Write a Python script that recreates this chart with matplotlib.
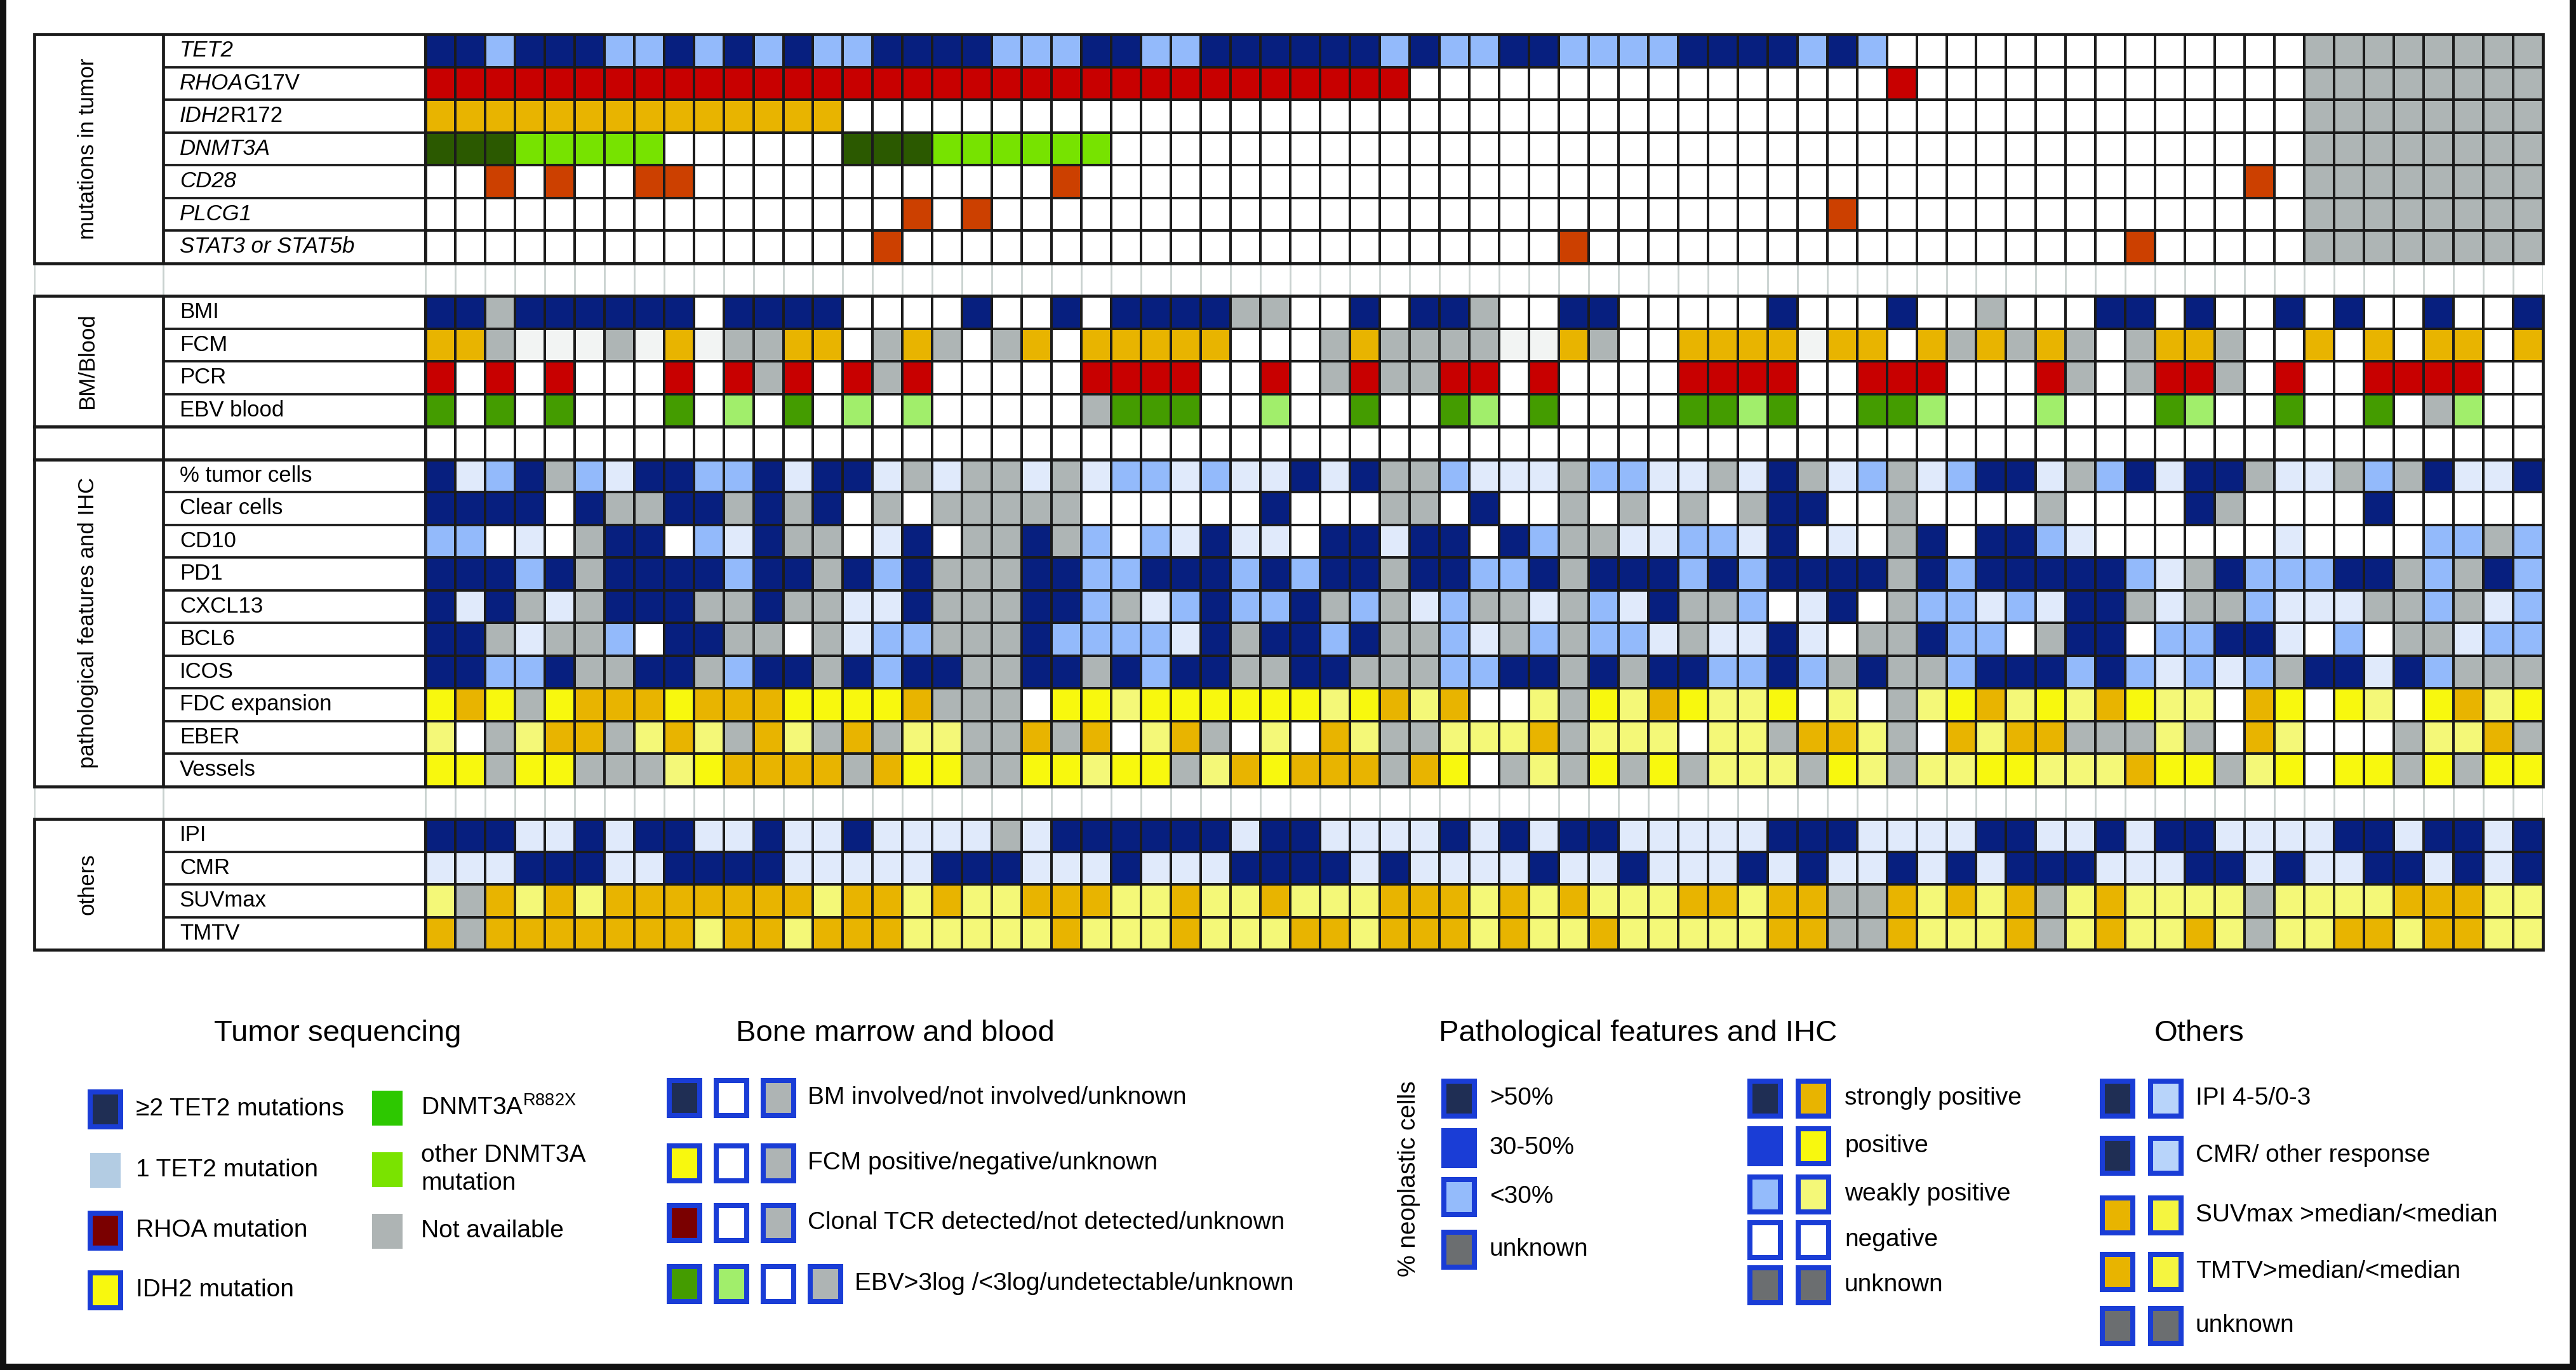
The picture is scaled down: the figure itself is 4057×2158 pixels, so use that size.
import numpy as np
import matplotlib
matplotlib.use("Agg")
import matplotlib.pyplot as plt
from matplotlib.colors import ListedColormap
from matplotlib.patches import Rectangle

plt.rcParams['font.family'] = ['Liberation Sans', 'DejaVu Sans']
plt.rcParams['mathtext.fontset'] = 'custom'
plt.rcParams['mathtext.rm'] = 'Liberation Sans'
plt.rcParams['mathtext.it'] = 'Liberation Sans:italic'

# cell colour codes
palette = {
    'N': '#071f7f', 'L': '#93bafb', 'V': '#e0eafb', 'G': '#aeb5b5',
    'W': '#ffffff', 'F': '#f2f4f3', 'R': '#c80000', 'O': '#e8b400',
    'Y': '#f8f80e', 'y': '#f4f878', 'D': '#2b5900', 'E': '#77e300',
    'C': '#cc4000', 'e': '#449c00', 'l': '#a1ee6b',
}

# one string per row, 71 patients (columns)
tet2 = "NNLNNNLLNLNLNLLNNNNLLLNN" + "LLNNNNNNLNLLNNLLLLNNNNLN" + "LWWWWWWWWWWWWWWGGGGGGGG"
rhoa = "R" * 24 + "RRRRRRRRRWWWWWWWWWWWWWWW" + "WRWWWWWWWWWWWWWGGGGGGGG"
idh2 = "OOOOOOOOOOOOOOWWWWWWWWWW" + "W" * 24 + "WWWWWWWWWWWWWWWGGGGGGGG"
dnmt3a = "DDDEEEEEWWWWWWDDDEEEEEEW" + "W" * 24 + "WWWWWWWWWWWWWWWGGGGGGGG"
cd28 = "WWCWCWWCCWWWWWWWWWWWWCWW" + "W" * 24 + "WWWWWWWWWWWWWCWGGGGGGGG"
plcg1 = "WWWWWWWWWWWWWWWWCWCWWWWW" + "WWWWWWWWWWWWWWWWWWWWWWWC" + "WWWWWWWWWWWWWWWGGGGGGGG"
stat = "WWWWWWWWWWWWWWWCWWWWWWWW" + "WWWWWWWWWWWWWWCWWWWWWWWW" + "WWWWWWWWWCWWWWWGGGGGGGG"

bmi = "NNGNNNNNNWNNNNWWWWNWWNWN" + "NNNGGWWNWNNGWWNNWWWWWNWW" + "WNWWGWWWNNWNWWNWNWWNWWN"
fcm = "OOGFFFGFOFGGOOWGOGWGOWOO" + "OOOWWWGOGGGGFFOGWWOOOOFO" + "OWOGOGOGWGOOGWWOWOWOOWO"
pcr = "RWRWRWWWRWRGRWRGRWWWWWRR" + "RRWWRWGRGGRRWRWWWWRRRRWW" + "RRRWWWRGWGRRGWRWWRRRRWW"
ebv = "eWeWeWWWeWlWeWlWlWWWWWGe" + "eeWWlWWeWWelWeWWWWeeleWW" + "eelWWWlWWWelWWeWWeWGlWW"
empty = "W" * 71

tumor_pct = "NVLNGLVNNLLNVNNVGVGGVGVL" + "LVLVVNVNGGLVVVGLLVVGVNGV" + "LGVLNNVGLNVNNGVVGLGNVVN"
clear = "NNNNWNGGNNGNGNWGWGGGGGWW" + "WWWWNWWWGGWNWWGWGWGWGNNW" + "WGWWWWGWWWWNGWWWWNWWWWW"
cd10 = "LLWVWGNNWLVNGGWVNWGGNGLW" + "LVNVVWNNVNNWNLGGVVLLVNWV" + "WGNWNNLVWWWWWWVWWWWLLGL"
pd1 = "NNNLNGNNNNLNNGNLNGGGNNLL" + "NNNLNLNNGNNLLNGNNNLNLNNN" + "NGNLNNNNNLVGNLLLNNGLGNL"
cxcl13 = "NVNGVGNNNGGNGGVVNGGGNNLG" + "VLNLLNGLGVLGGVGLVNGGLWVN" + "WGLLVLVNNGVGGLVVVGGLGVL"
bcl6 = "NNGVGGLWNNGGWGVLLGGGNLLL" + "LVNGNNLNGGLVGLGLLVGVVNVW" + "GGNLLWGNNWLLNNVWLWGGVLL"
icos = "NNLLNGGNNGLNNGNLNNGGNNGN" + "LNNGGNNGGGLLNNGNGNNLLNLG" + "NGGLNNNLNLVLVLGNNVNLGGG"
fdc = "YOYGYOOOYOOOYYYYOGGGWYYy" + "YYYYYYyYOyOWWyGYyOYyyYWy" + "WGyYOyYyOYyyWOYWYyWYOyY"
eber = "yWGyOOGyOyGOyGOGyyGGOGOW" + "yOGWyWOyGGyyyOGyyyWyyGOO" + "yGWOyOOGGGyGWOyWWWGyyOG"
vessels = "YYGYYGGGyYOOOOGOYYGGYYyY" + "YGyOYOOOGOYWGyGYGYGyyyGY" + "yGyyYYyyyOYYGyYWYYGYGYY"

ipi = "NNNVVNVNNVVNVVNVVVVGVNNN" + "NNNVNNVVVVNVNVNNVVVVVNNN" + "VVVVNNVVNVNNVVVVNNVNNVN"
cmr = "VVVNNNVVNNNNVVVVVNNNVVVN" + "VVVNNNNVNVVVVNVVNVVVNVNV" + "VNVNVNNNVVVNNVNVVNNVNVN"
suvmax = "yGOyOyOOOOOOOyOOyOyyOOOy" + "yOyyOyyyOOOyOyOyyyOOyOOG" + "GOyOyOGyOyyyyGyyyyOOOyy"
tmtv = "OGOOOOOOOyOOyOOOyyyyyOyy" + "yOyyyOOyOOOyOyyOyyyyyOOG" + "GOyyyOGyOyyOyGyyOOyOOyy"

# labels: (italic part, upright part)
mut_rows = [(('TET2', ''), tet2), (('RHOA', 'G17V'), rhoa), (('IDH2', 'R172'), idh2),
            (('DNMT3A', ''), dnmt3a), (('CD28', ''), cd28), (('PLCG1', ''), plcg1),
            (('STAT3 or STAT5b', ''), stat)]
bm_rows = [(('', 'BMI'), bmi), (('', 'FCM'), fcm), (('', 'PCR'), pcr), (('', 'EBV blood'), ebv)]
path_rows = [(('', '% tumor cells'), tumor_pct), (('', 'Clear cells'), clear), (('', 'CD10'), cd10),
             (('', 'PD1'), pd1), (('', 'CXCL13'), cxcl13), (('', 'BCL6'), bcl6), (('', 'ICOS'), icos),
             (('', 'FDC expansion'), fdc), (('', 'EBER'), eber), (('', 'Vessels'), vessels)]
other_rows = [(('', 'IPI'), ipi), (('', 'CMR'), cmr), (('', 'SUVmax'), suvmax), (('', 'TMTV'), tmtv)]

blocks = [('mutations in tumor', 0, mut_rows), ('BM/Blood', 8, bm_rows),
          ('', 12, [(('', ''), empty)]), ('pathological features and IHC', 13, path_rows),
          ('others', 24, other_rows)]
gap_rows = [7, 23]

NCOL = 71
P = 13.11   # width of label panel, in columns
D = 8.79    # row-label column width
LINE = '#1b1b1b'

fig = plt.figure(figsize=(40.57, 21.58), dpi=100)
ov = fig.add_axes([0, 0, 1, 1])
ov.set_xlim(0, 4057)
ov.set_ylim(2158, 0)
ov.axis('off')

ax = fig.add_axes([54 / 4057, (2158 - 1496) / 2158, (4005 - 54) / 4057, 1442 / 2158])
ax.set_xlim(-P, NCOL)
ax.set_ylim(28, 0)
ax.axis('off')

keys = list(palette)
cmap = ListedColormap(list(palette.values()))

for name, r0, rows in blocks:
    n = len(rows)
    M = np.array([[keys.index(c) for c in s] for _, s in rows])
    ax.pcolormesh(np.arange(NCOL + 1), np.arange(r0, r0 + n + 1), M, cmap=cmap,
                  vmin=-0.5, vmax=len(keys) - 0.5, edgecolors=LINE, linewidth=2.7)
    ax.add_patch(Rectangle((-P, r0), P + NCOL, n, fill=False, lw=3.4, ec=LINE,
                           clip_on=False, zorder=5))
    ax.vlines([-D, 0], r0, r0 + n, color=LINE, lw=3.4, zorder=5)
    ax.hlines(np.arange(r0 + 1, r0 + n), -D, 0, color=LINE, lw=2.7)
    for i, ((ital, reg), _) in enumerate(rows):
        if ital:
            t = ax.text(-D + 0.55, r0 + i + 0.5, ital, ha='left', va='center',
                        fontsize=25, style='italic')
            if reg:
                ax.annotate(reg, xy=(1, 0.5), xycoords=t, ha='left', va='center',
                            fontsize=25)
        elif reg:
            ax.text(-D + 0.55, r0 + i + 0.5, reg, ha='left', va='center', fontsize=25)
    if name:
        ax.text(-P + 1.79, r0 + n / 2, name, rotation=90, ha='center', va='center',
                fontsize=25)

for g in gap_rows:
    ax.vlines(np.r_[-P, -D, np.arange(NCOL + 1)], g, g + 1, color='#c9d1cf', lw=2)

# ---- legend ----
BLUE = '#1a3dd6'
DARK = '#1f2e54'
UNK = '#6b6e70'


def swatch(cx, cy, face, border=True):
    if border:
        ov.add_patch(Rectangle((cx - 28, cy - 31.5), 56, 63, fc=BLUE, ec='none'))
        ov.add_patch(Rectangle((cx - 20, cy - 23.5), 40, 47, fc=face, ec='none'))
    else:
        ov.add_patch(Rectangle((cx - 24, cy - 27.5), 48, 55, fc=face, ec='none'))


TY = 1628
ov.text(532, TY, 'Tumor sequencing', ha='center', va='center', fontsize=34)
ov.text(1410, TY, 'Bone marrow and blood', ha='center', va='center', fontsize=34)
ov.text(2580, TY, 'Pathological features and IHC', ha='center', va='center', fontsize=34)
ov.text(3464, TY, 'Others', ha='center', va='center', fontsize=34)

seq_items = [('≥2 TET2 mutations', DARK, True, 1747), ('1 TET2 mutation', '#b3cce3', False, 1843),
             ('RHOA mutation', '#7a0000', True, 1938), ('IDH2 mutation', '#f8f80e', True, 2032)]
for lab, c, b, y in seq_items:
    swatch(166, y, c, b)
    ov.text(214, y, lab, ha='left', va='center', fontsize=28)

dnmt_items = [(r'DNMT3A$^{\mathrm{R882X}}$', '#2dc800', 1745), ('other DNMT3A\nmutation', '#7ae300', 1842),
              ('Not available', '#aeb4b4', 1939)]
for lab, c, y in dnmt_items:
    swatch(610, y, c, False)
    ov.text(663, y, lab, ha='left', va='center', fontsize=28, linespacing=1.3)

bm_items = [([DARK, 'white', '#aeb4b4'], 'BM involved/not involved/unknown', 1729),
            (['#f8f80e', 'white', '#aeb4b4'], 'FCM positive/negative/unknown', 1832),
            (['#7a0000', 'white', '#aeb4b4'], 'Clonal TCR detected/not detected/unknown', 1926),
            (['#449c00', '#a1ee6b', 'white', '#aeb4b4'], 'EBV>3log /<3log/undetectable/unknown', 2022)]
for cols, lab, y in bm_items:
    for k, c in enumerate(cols):
        swatch(1078 + 74 * k, y, c)
    ov.text(1078 + 74 * (len(cols) - 1) + 46, y, lab, ha='left', va='center', fontsize=28)

ov.text(2219, 1857, '% neoplastic cells', rotation=90, ha='center', va='center', fontsize=28)
pct_items = [('>50%', DARK, 1730), ('30-50%', BLUE, 1808), ('<30%', '#94bbfb', 1885), ('unknown', UNK, 1968)]
for lab, c, y in pct_items:
    swatch(2298, y, c)
    ov.text(2346, y, lab, ha='left', va='center', fontsize=28)

ihc_items = [([DARK, '#e8b400'], 'strongly positive', 1730), ([BLUE, '#f8f80e'], 'positive', 1805),
             (['#94bbfb', '#f4f878'], 'weakly positive', 1881), (['white', 'white'], 'negative', 1953),
             ([UNK, UNK], 'unknown', 2024)]
for cols, lab, y in ihc_items:
    for k, c in enumerate(cols):
        swatch(2780 + 76 * k, y, c)
    ov.text(2905, y, lab, ha='left', va='center', fontsize=28)

oth_items = [([DARK, '#b8d4fa'], 'IPI 4-5/0-3', 1730), ([DARK, '#b8d4fa'], 'CMR/ other response', 1820),
             (['#e8b400', '#f5f540'], 'SUVmax >median/<median', 1914),
             (['#e8b400', '#f5f540'], 'TMTV>median/<median', 2003), ([UNK, UNK], 'unknown', 2088)]
for cols, lab, y in oth_items:
    for k, c in enumerate(cols):
        swatch(3335 + 76 * k, y, c)
    ov.text(3458, y, lab, ha='left', va='center', fontsize=28)

# outer frame
for x, y, w, h in [(0, 0, 10, 2158), (4047, 0, 10, 2158), (0, 2148, 4057, 10)]:
    ov.add_patch(Rectangle((x, y), w, h, fc='#111111', ec='none'))

fig.savefig('out.png', dpi=100)
